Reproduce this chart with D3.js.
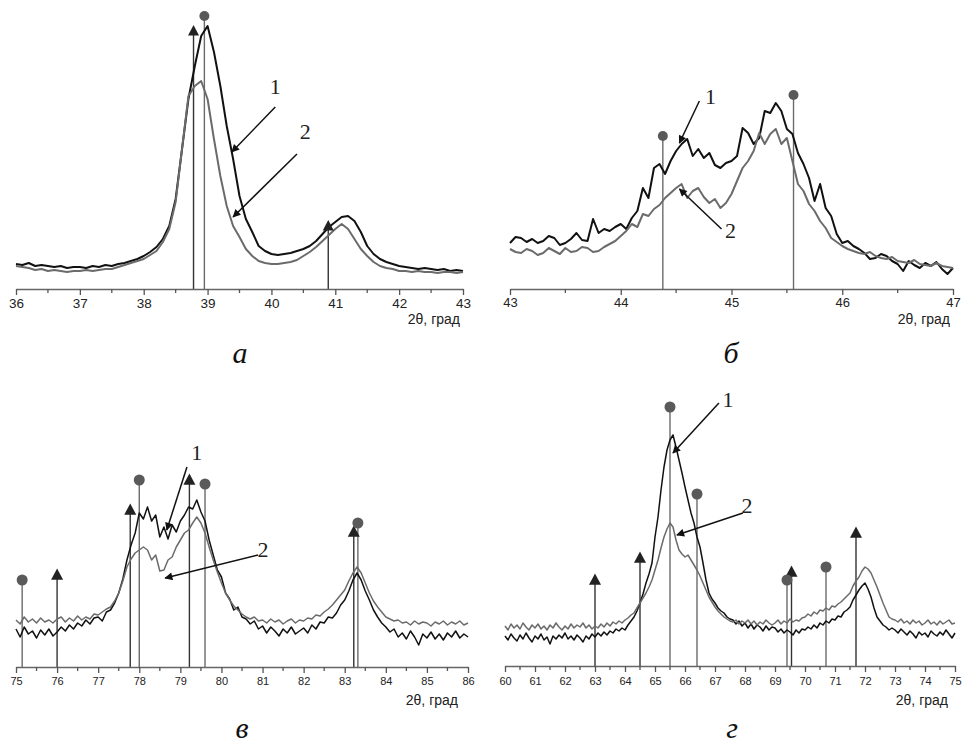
<!DOCTYPE html>
<html>
<head>
<meta charset="utf-8">
<script src="https://cdn.jsdelivr.net/npm/d3@7"></script>
<style>
  body { margin: 0; background: #fff; }
  svg { display: block; }
  .tick-label { font-family: Arial, "Liberation Sans", sans-serif; fill: #222; }
  .xlabel { font-family: Arial, "Liberation Sans", sans-serif; fill: #222; }
  .num { font-family: "Times New Roman", "Liberation Serif", serif; fill: #222; }
  .caption { font-family: "Times New Roman", "Liberation Serif", serif; font-style: italic; fill: #111; }
</style>
</head>
<body>
<div id="graphic"></div>
<script>
// ---- panel а : 36..43, step 0.1
const aStart = 36, aStep = 0.1;
const aCurve1 = [25,24,26,23,24,23,22,23,21,22, 22,21,23,22,24,23,25,26,28,30,
  33,37,42,50,63,90,140,190,223,253, 263,237,203,163,130,93,70,57,43,38,
  35,34,35,36,38,40,43,48,55,62, 67,72,73,68,57,43,35,30,27,25,
  23,22,21,20,21,20,19,20,18,19, 18];
const aCurve2 = [23,22,21,19,20,18,19,18,17,18, 18,19,18,19,20,20,22,24,26,28,
  30,34,38,47,60,87,140,193,203,208, 190,150,113,83,63,52,40,33,28,26,
  25,25,26,27,29,33,37,42,48,54, 60,65,60,50,40,33,27,23,21,20,
  18,18,17,18,17,17,16,17,17,16, 17];
const aTriangles = [[38.78, 258], [40.89, 63]];
const aCircles = [[38.95, 273]];

// ---- panel б : 43..47, step 0.05
const bStart = 43, bStep = 0.05;
const bCurve1 = [46,52,51,47,50,46,48,53,51,44, 46,50,56,49,48,70,56,60,58,62,
  65,60,71,78,101,91,121,125,115,128, 138,145,150,133,140,131,136,124,121,126,
  128,133,161,156,145,151,178,176,186,178, 160,155,136,125,111,88,105,81,73,55,
  46,48,43,40,36,30,31,35,33,28, 25,18,28,24,21,26,23,27,20,15, 21];
const bCurve2 = [40,37,36,40,38,34,36,41,38,35, 41,37,38,42,41,37,38,42,45,48,
  53,58,65,62,75,73,80,84,91,96, 101,105,91,98,101,92,86,90,81,86,
  95,108,121,128,138,156,145,155,160,145, 151,128,105,98,85,78,68,61,51,47,
  43,40,38,36,35,37,33,31,30,32, 28,27,26,29,25,24,23,26,23,22, 21];
const bCircles = [[44.38, 153], [45.56, 194]];

// ---- panel в : 75..86, step 0.1
const cStart = 75, cStep = 0.1;
const cCurve1 = [38,30,40,33,36,29,37,32,38,31, 35,40,36,42,38,44,41,47,43,49,
  50,46,55,57,64,74,88,107,122,134, 154,148,160,146,152,130,140,128,142,135,
  146,152,160,158,167,155,146,127,112,97, 90,74,68,57,60,50,48,43,46,38,
  41,34,40,36,31,38,34,40,33,36, 39,34,42,38,45,44,50,49,54,62,
  67,76,87,94,87,76,67,57,50,44, 40,35,38,30,34,28,36,30,22,33,
  29,35,28,33,27,34,30,36,29,33, 30];
const cCurve2 = [47,43,50,45,48,44,49,45,47,44, 48,50,45,49,46,51,47,50,48,53,
  52,55,58,60,66,74,86,100,108,114, 117,120,117,107,112,96,97,107,110,120,
  127,134,137,144,150,144,134,120,107,95, 84,74,67,61,57,53,50,48,50,46,
  47,44,48,45,47,43,46,48,44,47, 46,49,48,52,51,55,58,62,67,72,
  77,86,94,100,94,84,74,66,60,55, 50,48,46,47,44,45,42,46,43,45,
  44,41,45,43,46,42,45,43,46,42, 44];
const cTriangles = [[76.0, 92], [77.78, 157], [79.22, 187], [83.22, 135]];
const cCircles = [[75.15, 87], [78.0, 187], [79.6, 183], [83.32, 144]];

// ---- panel г : 60..75, step 0.1
const dStart = 60, dStep = 0.1;
const dCurve1 = [30,26,32,28,25,31,27,33,28,24, 30,27,32,26,29,22,30,27,31,28,
  33,27,30,26,31,28,24,30,27,32, 29,33,30,34,31,35,33,37,35,38,
  36,41,45,49,55,63,72,83,92,103, 129,149,176,199,216,226,231,219,206,193,
  179,166,153,143,129,119,103,86,73,67, 63,58,55,53,49,47,46,42,45,40,
  43,38,42,37,41,39,35,40,36,39, 38,34,37,33,36,34,31,36,33,37,
  36,39,37,41,38,43,41,45,43,47, 46,50,49,54,56,59,66,71,76,80,
  83,77,69,58,49,45,41,39,36,38, 36,33,37,34,31,35,32,28,34,31,
  33,29,35,32,30,34,31,36,32,28, 33];
const dCurve2 = [40,36,42,38,41,37,43,39,36,41, 38,42,37,40,36,41,38,43,39,36,
  40,37,42,38,41,39,43,38,41,37, 40,38,42,39,43,40,44,42,45,43,
  46,48,51,53,58,63,68,73,79,86, 96,106,118,129,137,143,139,126,116,112,
  109,111,106,101,96,90,83,76,69,64, 59,55,52,49,47,45,44,46,42,45,
  43,46,42,45,41,44,42,46,43,41, 43,46,42,45,43,47,44,46,45,48,
  49,52,50,54,52,56,55,58,56,60, 59,62,64,67,70,73,80,85,89,95,
  99,97,93,86,79,71,63,56,49,47, 46,44,47,43,45,42,46,43,45,41,
  43,46,42,44,41,45,42,44,46,42, 43];
const dTriangles = [[63.0, 86], [64.5, 108], [69.55, 94], [71.7, 133]];
const dCircles = [[65.5, 259], [66.4, 172], [69.4, 86], [70.7, 99]];

// curve labels: [text, x, y, arrow x1, y1, x2, y2] in data units
const aNotes = [["1", 40.06, 200, 40.06, 182, 39.38, 137], ["2", 40.53, 155, 40.40, 135, 39.40, 72]];
const bNotes = [["1", 44.81, 190, 44.71, 188, 44.53, 146], ["2", 44.99, 56, 44.91, 60, 44.53, 100]];
const cNotes = [["1", 79.40, 212, 79.16, 200, 78.67, 137], ["2", 81.01, 115, 80.89, 112, 78.63, 89]];
const dNotes = [["1", 67.43, 264, 67.13, 263, 65.60, 213], ["2", 68.07, 158, 67.93, 153, 65.73, 131]];

const xTitle = "2θ, град";

const panels = [
  { start: aStart, step: aStep, c1: aCurve1, c2: aCurve2, tri: aTriangles, circ: aCircles, notes: aNotes,
    domain: [36, 43], x0: 16, x1: 463, axisY: 289, tickSize: 13.5, tickY: 308, titleY: 324, titleX: 460,
    caption: "а", capX: 240, capY: 363, lw: 2, mk: 11 },
  { start: bStart, step: bStep, c1: bCurve1, c2: bCurve2, tri: [], circ: bCircles, notes: bNotes,
    domain: [43, 47], x0: 510, x1: 953, axisY: 289, tickSize: 13, tickY: 307, titleY: 324, titleX: 950,
    caption: "б", capX: 731, capY: 363, lw: 2, mk: 11 },
  { start: cStart, step: cStep, c1: cCurve1, c2: cCurve2, tri: cTriangles, circ: cCircles, notes: cNotes,
    domain: [75, 86], x0: 16, x1: 468, axisY: 667, tickSize: 11, tickY: 685, titleY: 705, titleX: 458,
    caption: "в", capX: 242, capY: 738, lw: 1.5, mk: 12 },
  { start: dStart, step: dStep, c1: dCurve1, c2: dCurve2, tri: dTriangles, circ: dCircles, notes: dNotes,
    domain: [60, 75], x0: 505, x1: 955, axisY: 666, tickSize: 11, tickY: 685, titleY: 705, titleX: 948,
    caption: "г", capX: 732, capY: 738, lw: 1.5, mk: 12 }
];

const svg = d3.select("#graphic").append("svg")
  .attr("width", 962)
  .attr("height", 743);

svg.append("defs").append("marker")
  .attr("id", "arrow")
  .attr("viewBox", "0 0 10 10")
  .attr("refX", 9).attr("refY", 5)
  .attr("markerWidth", 10).attr("markerHeight", 8)
  .attr("markerUnits", "userSpaceOnUse")
  .attr("orient", "auto")
  .append("path")
  .attr("d", "M0,0 L10,5 L0,10 Z")
  .attr("fill", "#111");

function drawPanel(p){
  const g = svg.append("g");
  const x = d3.scaleLinear().domain(p.domain).range([p.x0, p.x1]);
  const y = d3.scaleLinear().domain([0, 300]).range([p.axisY, p.axisY - 300]);
  const toPts = arr => arr.map((v, i) => [p.start + i * p.step, v]);
  const line = d3.line().x(d => x(d[0])).y(d => y(d[1]));

  // reference lines
  g.selectAll(".cline").data(p.circ).enter().append("line")
    .attr("x1", d => x(d[0])).attr("x2", d => x(d[0]))
    .attr("y1", y(0)).attr("y2", d => y(d[1]))
    .attr("stroke", "#6a6a6a").attr("stroke-width", 1.4);
  g.selectAll(".tline").data(p.tri).enter().append("line")
    .attr("x1", d => x(d[0])).attr("x2", d => x(d[0]))
    .attr("y1", y(0)).attr("y2", d => y(d[1]))
    .attr("stroke", "#333").attr("stroke-width", 1.4);

  // curves
  g.append("path").datum(toPts(p.c1)).attr("d", line)
    .attr("fill", "none").attr("stroke", "#111").attr("stroke-width", p.lw)
    .attr("stroke-linejoin", "round");
  g.append("path").datum(toPts(p.c2)).attr("d", line)
    .attr("fill", "none").attr("stroke", "#6b6b6b").attr("stroke-width", p.lw)
    .attr("stroke-linejoin", "round");

  // markers
  const s = p.mk;
  g.selectAll(".tri").data(p.tri).enter().append("path")
    .attr("d", d => {
      const cx = x(d[0]), cy = y(d[1]);
      return `M${cx - s / 2},${cy + s * 0.4} L${cx + s / 2},${cy + s * 0.4} L${cx},${cy - s * 0.55} Z`;
    })
    .attr("fill", "#222");
  g.selectAll(".circ").data(p.circ).enter().append("circle")
    .attr("cx", d => x(d[0])).attr("cy", d => y(d[1]))
    .attr("r", s / 2 - 0.5)
    .attr("fill", "#5a5a5a");

  // axis
  const majors = d3.range(p.domain[0], p.domain[1] + 0.001, 1);
  const minors = d3.range(p.domain[0] + 0.5, p.domain[1], 1);
  const ax = g.append("g").attr("transform", `translate(0,${p.axisY})`)
    .call(d3.axisBottom(x).tickValues(majors).tickSize(6).tickSizeOuter(0).tickFormat(d3.format("d")));
  ax.select(".domain").attr("stroke", "#666").attr("stroke-width", 1.6);
  ax.selectAll(".tick line").attr("stroke", "#555").attr("stroke-width", 1.3);
  ax.selectAll(".tick text")
    .attr("class", "tick-label")
    .attr("y", p.tickY - p.axisY).attr("dy", 0)
    .style("font-size", p.tickSize + "px");
  ax.append("g").selectAll("line").data(minors).enter().append("line")
    .attr("x1", d => x(d)).attr("x2", d => x(d))
    .attr("y1", 0).attr("y2", 4)
    .attr("stroke", "#555").attr("stroke-width", 1.3);

  g.append("text").attr("class", "xlabel")
    .attr("x", p.titleX).attr("y", p.titleY)
    .attr("text-anchor", "end")
    .style("font-size", "14px")
    .text(xTitle);

  // curve labels with arrows
  p.notes.forEach(n => {
    g.append("line")
      .attr("x1", x(n[3])).attr("y1", y(n[4]))
      .attr("x2", x(n[5])).attr("y2", y(n[6]))
      .attr("stroke", "#111").attr("stroke-width", 1.5)
      .attr("marker-end", "url(#arrow)");
    g.append("text").attr("class", "num")
      .attr("x", x(n[1])).attr("y", y(n[2]))
      .attr("text-anchor", "middle").attr("dominant-baseline", "middle")
      .style("font-size", "22px")
      .text(n[0]);
  });

  g.append("text").attr("class", "caption")
    .attr("x", p.capX).attr("y", p.capY)
    .attr("text-anchor", "middle")
    .style("font-size", "30px")
    .text(p.caption);
}

panels.forEach(drawPanel);
</script>
</body>
</html>
